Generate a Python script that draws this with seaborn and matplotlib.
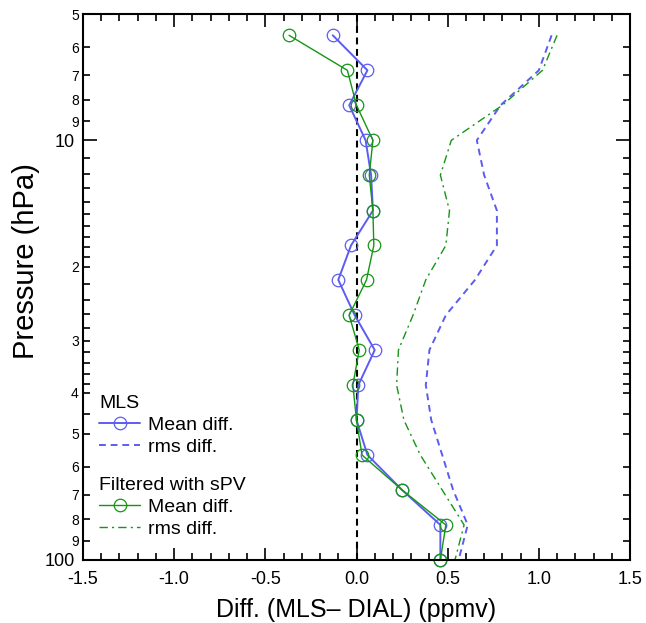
import numpy as np
import pandas as pd
import matplotlib
matplotlib.use("Agg")
import matplotlib.pyplot as plt
from matplotlib.ticker import FixedLocator, FixedFormatter
import seaborn as sns

# pressure levels (hPa), top to bottom
levels = [5.62, 6.81, 8.25, 10.0, 12.1, 14.7, 17.8, 21.5, 26.1, 31.6, 38.3, 46.4, 56.2, 68.1, 82.5, 100.0]

# MLS - DIAL differences (ppmv)
mls_mean = [-0.13, 0.06, -0.04, 0.05, 0.08, 0.09, -0.03, -0.10, -0.01, 0.10, 0.01, 0.00, 0.06, 0.25, 0.46, 0.46]
mls_rms = [1.07, 1.00, 0.79, 0.66, 0.70, 0.77, 0.77, 0.65, 0.49, 0.40, 0.38, 0.41, 0.47, 0.53, 0.61, 0.56]

# filtered with sPV
spv_mean = [-0.37, -0.05, 0.00, 0.09, 0.07, 0.09, 0.095, 0.055, -0.04, 0.015, -0.02, 0.00, 0.03, 0.25, 0.49, 0.46]
spv_rms = [1.10, 1.02, 0.80, 0.52, 0.46, 0.51, 0.49, 0.38, 0.31, 0.23, 0.22, 0.26, 0.35, 0.47, 0.59, 0.54]

x_ticks = [-1.5, -1.0, -0.5, 0.0, 0.5, 1.0, 1.5]
y_major = [10, 100]
y_minor = [5, 6, 7, 8, 9, 11, 12, 13, 14, 15, 16, 17, 18, 19,
           20, 22, 24, 26, 28, 30, 32, 34, 36, 38, 40, 45, 50, 60, 70, 80, 90]
y_minor_labels = {5: "5", 6: "6", 7: "7", 8: "8", 9: "9", 20: "2", 30: "3", 40: "4",
                  50: "5", 60: "6", 70: "7", 80: "8", 90: "9"}

df = pd.DataFrame({"p": levels, "mls_mean": mls_mean, "mls_rms": mls_rms,
                   "spv_mean": spv_mean, "spv_rms": spv_rms})

sns.set_style("ticks")
plt.rcParams["font.family"] = ["Liberation Sans", "DejaVu Sans"]
plt.rcParams["axes.unicode_minus"] = False
for key in ["text.color", "axes.labelcolor", "xtick.color", "ytick.color", "axes.edgecolor"]:
    plt.rcParams[key] = "black"

blue = "#5c5cf2"
green = "#149614"

fig = plt.figure(figsize=(6.46, 6.23), dpi=100)
ax = fig.add_axes([83 / 646, 63 / 623, 547 / 646, 546 / 623])

ax.axvline(0, color="k", ls=(0, (3.3, 2.2)), lw=1.5, zorder=1)

sns.lineplot(data=df, x="mls_mean", y="p", orient="y", sort=False, ax=ax,
             color=blue, lw=1.4, marker="o", markersize=9, markerfacecolor="none",
             markeredgecolor=blue, markeredgewidth=0.9, clip_on=False,
             label="Mean diff.")
sns.lineplot(data=df, x="mls_rms", y="p", orient="y", sort=False, ax=ax,
             color=blue, lw=1.4, ls=(0, (3.5, 2.5)), label="rms diff.")
sns.lineplot(data=df, x="spv_mean", y="p", orient="y", sort=False, ax=ax,
             color=green, lw=1.0, marker="o", markersize=9, markerfacecolor="none",
             markeredgecolor=green, markeredgewidth=0.9, clip_on=False,
             label="Mean diff.")
sns.lineplot(data=df, x="spv_rms", y="p", orient="y", sort=False, ax=ax,
             color=green, lw=1.0, ls=(0, (6, 3, 1.5, 3)), label="rms diff.")

# axes
ax.set_yscale("log")
ax.set_ylim(100, 5)
ax.set_xlim(-1.5, 1.5)
ax.set_xticks(x_ticks)
ax.set_xticklabels([f"{v:.1f}" for v in x_ticks], fontsize=13)
ax.xaxis.set_minor_locator(FixedLocator([round(v, 1) for v in np.arange(-1.5, 1.51, 0.1)]))

ax.yaxis.set_major_locator(FixedLocator(y_major))
ax.yaxis.set_major_formatter(FixedFormatter([str(v) for v in y_major]))
ax.yaxis.set_minor_locator(FixedLocator(y_minor))
ax.yaxis.set_minor_formatter(FixedFormatter([y_minor_labels.get(v, "") for v in y_minor]))

ax.tick_params(which="both", direction="in", top=True, right=True, color="k", width=1.2)
ax.tick_params(axis="x", which="major", length=9, pad=8, labelsize=13)
ax.tick_params(axis="x", which="minor", length=5)
ax.tick_params(axis="y", which="major", length=10, pad=6, labelsize=13)
ax.tick_params(axis="y", which="minor", length=5, pad=3, labelsize=10)

for s in ax.spines.values():
    s.set_linewidth(1.5)
    s.set_color("k")

ax.set_xlabel("Diff. (MLS\u2013 DIAL) (ppmv)", fontsize=18, labelpad=7)
ax.set_ylabel("Pressure (hPa)", fontsize=21)
ax.yaxis.set_label_coords(-0.078, 0.548)

# legends
handles, labels = ax.get_legend_handles_labels()
leg_kw = dict(loc="upper left", frameon=False, fontsize=14, title_fontsize=14,
              alignment="left", handlelength=2.1, handletextpad=0.4,
              labelspacing=0.22, borderpad=0, borderaxespad=0)
leg1 = ax.legend(handles[:2], labels[:2], title="MLS", bbox_to_anchor=(0.03, 0.302), **leg_kw)
ax.add_artist(leg1)
ax.legend(handles[2:], labels[2:], title="Filtered with sPV", bbox_to_anchor=(0.03, 0.152), **leg_kw)

plt.savefig("out.png", dpi=100)
plt.close()
